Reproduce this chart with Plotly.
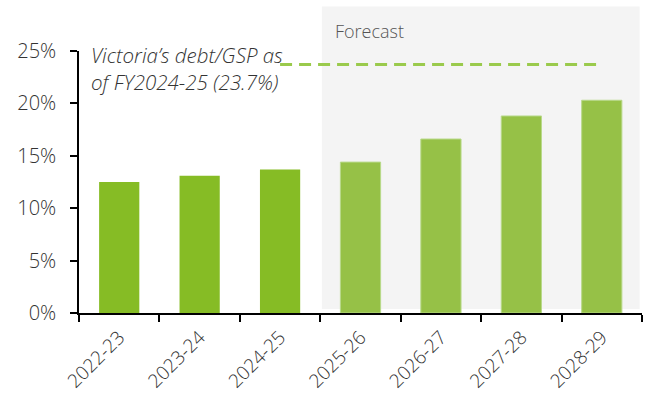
import plotly.graph_objects as go

# Victoria's net debt as a share of gross state product, by financial year
years = ["2022-23", "2023-24", "2024-25", "2025-26", "2026-27", "2027-28", "2028-29"]
debt_gsp = [12.5, 13.1, 13.7, 14.4, 16.6, 18.8, 20.3]
forecast_flags = [False, False, False, True, True, True, True]
reference_level = 23.7
y_ticks = [0, 5, 10, 15, 20, 25]
y_tick_labels = ["0%", "5%", "10%", "15%", "20%", "25%"]

HIST_COLOR = "#86BC25"
FC_COLOR = "#96C147"
FC_EDGE = "#B8D98A"
TEXT = "#333333"

bar_colors = [FC_COLOR if f else HIST_COLOR for f in forecast_flags]
edge_colors = [FC_EDGE if f else HIST_COLOR for f in forecast_flags]
edge_widths = [1 if f else 0 for f in forecast_flags]

light = dict(family="Open Sans", weight=300)

fig = go.Figure()
fig.add_trace(go.Bar(
    x=years, y=debt_gsp,
    width=0.5,
    marker=dict(color=bar_colors, line=dict(color=edge_colors, width=edge_widths)),
    hoverinfo="skip",
))

# Forecast period shading
fig.add_shape(type="rect", xref="x", yref="paper",
              x0=2.52, x1=6.47, y0=0.015, y1=1.17,
              fillcolor="#F4F4F4", line=dict(width=0), layer="below")

# Current debt/GSP reference line
fig.add_shape(type="line", xref="x", yref="y",
              x0=2.0, x1=6.0, y0=reference_level, y1=reference_level,
              line=dict(color="#9ACA4C", width=3, dash="12px,7px"))

fig.add_annotation(xref="x", yref="paper", x=2.66, y=1.077,
                   text="Forecast", showarrow=False, xanchor="left", yanchor="middle",
                   font=dict(**light, size=18, color="#555555"))

fig.add_annotation(xref="paper", yref="paper", x=0.018, y=0.932,
                   text="<i>Victoria’s debt/GSP as<br>of FY2024-25 (23.7%)</i>",
                   showarrow=False, xanchor="left", yanchor="middle", align="left",
                   font=dict(**light, size=20.5, color=TEXT))

fig.update_layout(
    width=646, height=400,
    margin=dict(l=79, r=4, t=51, b=87),
    paper_bgcolor="white", plot_bgcolor="rgba(0,0,0,0)",
    showlegend=False,
    font=dict(family="Open Sans", color=TEXT),
)
fig.update_xaxes(
    type="category", tickson="boundaries", automargin=False,
    showline=True, linecolor="#000000", linewidth=1.5,
    ticks="outside", ticklen=7, tickwidth=1.5, tickcolor="#000000",
    tickangle=-45, tickfont=dict(**light, size=19, color=TEXT),
    ticklabelstandoff=4,
    showgrid=False, zeroline=False,
)
fig.update_yaxes(
    range=[0, 25], tickvals=y_ticks, ticktext=y_tick_labels, automargin=False,
    showline=True, linecolor="#000000", linewidth=1.5,
    ticks="outside", ticklen=7, tickwidth=1.5, tickcolor="#000000",
    tickfont=dict(**light, size=20, color=TEXT),
    ticklabelstandoff=10,
    showgrid=False, zeroline=False,
)

fig.write_html("out.html")
